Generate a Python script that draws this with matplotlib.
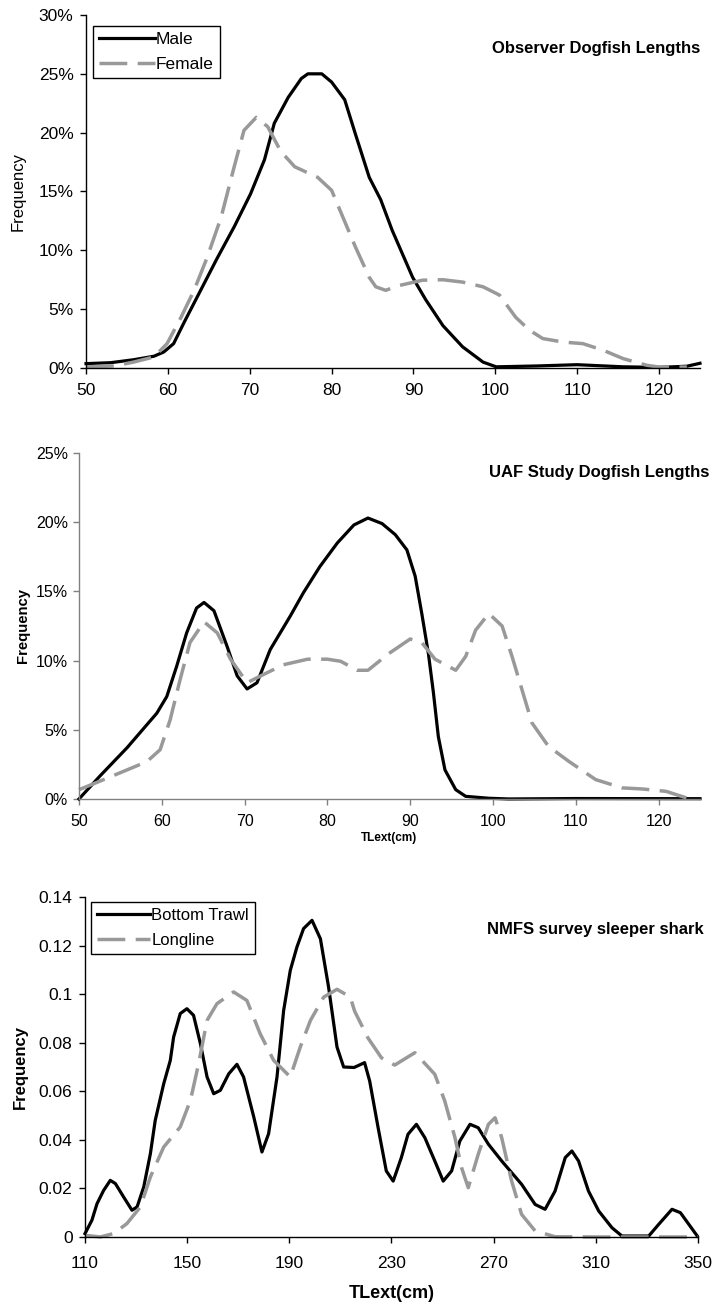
"""Three stacked length-frequency panels: observer dogfish, UAF dogfish, NMFS sleeper shark."""

import matplotlib

matplotlib.use("Agg")
import matplotlib.pyplot as plt  # noqa: E402
from matplotlib.ticker import FuncFormatter  # noqa: E402

plt.rcParams["font.family"] = ["Liberation Sans", "DejaVu Sans"]

GRAY = "#999999"
DASH = (0, (8, 3))

# ---- panel 1: Observer dogfish lengths (percent) ----
obs_male_x = [50, 53, 55.8, 58.3, 59.5, 60.7, 62, 64, 66, 68.1, 70.1, 71.8, 73, 74.7,
              76.3, 77.1, 78.8, 80, 81.6, 82.9, 84.6, 86, 87.4, 89.9, 91.5, 93.6, 96,
              98.5, 100.1, 105, 110, 115.6, 120, 123.4, 125]
obs_male_y = [0.37, 0.45, 0.7, 1.0, 1.36, 2.07, 3.9, 6.6, 9.3, 12, 14.8, 17.7, 20.8, 23,
              24.6, 25, 25, 24.3, 22.8, 19.9, 16.2, 14.3, 11.7, 7.7, 5.8, 3.6, 1.8,
              0.5, 0.1, 0.17, 0.28, 0.1, 0.05, 0.15, 0.4]
obs_fem_x = [50, 53.4, 55.8, 58.3, 59.9, 61.6, 63.2, 64.8, 66.5, 68.1, 69.3, 70.8, 72.2,
             73.8, 75.5, 78.3, 80, 82.9, 84.6, 85.4, 86.6, 88.2, 91.1, 93.6, 96, 98.5,
             100.5, 102.5, 104.2, 105.8, 108.3, 110.7, 113.2, 115.6, 118.5, 120, 123.4]
obs_fem_y = [0.1, 0.17, 0.5, 0.94, 2.07, 4.3, 6.6, 9.4, 12.8, 17.1, 20.2, 21.3, 20.5,
             18.4, 17.1, 16.2, 15.1, 10.3, 7.7, 6.9, 6.6, 7.0, 7.46, 7.5, 7.3, 6.9,
             6.2, 4.3, 3.2, 2.5, 2.2, 2.07, 1.5, 0.8, 0.23, 0.08, 0.08]

# ---- panel 2: UAF study dogfish lengths (percent) ----
uaf_male_x = [50, 52.5, 55.8, 59.4, 60.6, 61.8, 63, 64.2, 65.1, 66.3, 67.9, 69.1, 70.3,
              71.5, 73.1, 75.5, 77.1, 79.1, 81.2, 83.2, 84.9, 86.6, 88.2, 89.6, 90.6,
              91.4, 92.2, 92.8, 93.4, 94.2, 95.5, 96.7, 99.5, 101.9, 110, 125]
uaf_male_y = [0, 1.64, 3.7, 6.2, 7.4, 9.6, 12, 13.8, 14.2, 13.6, 11, 8.9, 7.95,
              8.4, 10.8, 13.2, 14.9, 16.8, 18.5, 19.8, 20.3, 19.9, 19.1, 18, 16.1,
              13.4, 10.5, 7.7, 4.5, 2.1, 0.67, 0.19, 0.05, 0, 0.03, 0.02]
uaf_fem_x = [50, 52.5, 55.8, 58.2, 59.8, 61, 62.2, 63.4, 65.1, 66.7, 68.3, 70.3, 72.3,
             74.7, 77.6, 80, 81.6, 83.6, 84.9, 87.4, 90, 91.4, 93, 95.5, 96.7, 97.9,
             99.5, 101.1, 102.3, 103.5, 104.7, 106.7, 109.2, 112.4, 115.6, 118.1,
             120.9, 123.4]
uaf_fem_y = [0.67, 1.28, 2.1, 2.7, 3.56, 5.7, 8.6, 11.3, 12.8, 12, 10.1, 8.4, 9,
             9.7, 10.1, 10.1, 9.95, 9.3, 9.3, 10.5, 11.56, 11.3, 10.1, 9.3, 10.3, 12.2,
             13.4, 12.5, 10.3, 7.9, 5.5, 3.8, 2.7, 1.4, 0.8, 0.72, 0.55, 0.07]

# ---- panel 3: NMFS survey sleeper shark (proportion) ----
bt_x = [110, 112.7, 114.7, 117.3, 119.9, 121.9, 125.1, 128.4, 130.4, 133, 135.6, 137.5,
        140.8, 143.4, 144.7, 147.3, 149.9, 152.5, 155.2, 157.8, 160.4, 163, 166.3,
        169.5, 172.1, 176.1, 179.3, 181.9, 185.2, 187.8, 190.4, 193, 195.6, 198.9,
        202.2, 205.4, 208.7, 211.3, 215.4, 219.5, 221.5, 224.8, 228, 230.7, 233.9,
        236.5, 239.8, 243.1, 247, 250.3, 253.6, 256.8, 260.8, 264, 268, 273.2, 281,
        286.3, 290.2, 294.1, 298.1, 300.7, 303.3, 307.2, 311.2, 316.4, 320.3, 330.8,
        334.7, 339.9, 343.2, 346.5, 349.8]
bt_y = [0.0014, 0.0069, 0.0137, 0.0192, 0.0233, 0.022, 0.0165, 0.011, 0.0124, 0.0206,
        0.0343, 0.048, 0.063, 0.0727, 0.0823, 0.092, 0.094, 0.0913, 0.0796, 0.0659,
        0.059, 0.0604, 0.0672, 0.0711, 0.0659, 0.0494, 0.035, 0.0425, 0.0659, 0.0933,
        0.1098, 0.1194, 0.127, 0.1304, 0.1228, 0.1029, 0.0782, 0.07, 0.0698, 0.0718,
        0.0642, 0.045, 0.0272, 0.023, 0.0327, 0.0423, 0.0464, 0.0409, 0.0313, 0.023,
        0.0272, 0.0395, 0.0464, 0.045, 0.0382, 0.0313, 0.0217, 0.0134, 0.0114, 0.0189,
        0.0327, 0.0354, 0.0313, 0.0189, 0.0107, 0.0038, 0.0004, 0.0004, 0.0052, 0.0114,
        0.01, 0.0052, 0.0004]
ll_x = [110, 116, 121.2, 126.4, 131.7, 135.6, 140.8, 147.3, 151.3, 154.5, 157.8, 161.7,
        168.2, 173.4, 178.6, 183.9, 186.5, 190.4, 194.3, 198.3, 203.5, 208.7, 213.9,
        215.6, 220.8, 226.1, 231.3, 239.2, 247, 250.9, 254.9, 257.5, 260.1, 264, 268,
        270.6, 273.2, 277.1, 281, 286.3, 294.1, 310, 330, 350]
ll_y = [0.0007, 0, 0.0014, 0.0055, 0.0124, 0.0247, 0.037, 0.0453, 0.0563, 0.0714,
        0.0892, 0.0961, 0.1009, 0.0974, 0.0837, 0.0727, 0.07, 0.0659, 0.0782, 0.0892,
        0.0988, 0.102, 0.0988, 0.093, 0.082, 0.0738, 0.0708, 0.0759, 0.067, 0.056,
        0.0409, 0.0285, 0.0203, 0.034, 0.0464, 0.0491, 0.0409, 0.023, 0.0093, 0.0025,
        0.0001, 0, 0, 0]

pct_ticks_1 = [0, 5, 10, 15, 20, 25, 30]
pct_ticks_2 = [0, 5, 10, 15, 20, 25]
x_ticks_dog = [50, 60, 70, 80, 90, 100, 110, 120]
y_ticks_3 = [0, 0.02, 0.04, 0.06, 0.08, 0.1, 0.12, 0.14]
x_ticks_3 = [110, 150, 190, 230, 270, 310, 350]


def style_axes(ax, spine_color, size, xpad, ypad):
    for side in ("top", "right"):
        ax.spines[side].set_visible(False)
    for side in ("left", "bottom"):
        ax.spines[side].set_color(spine_color)
        ax.spines[side].set_linewidth(1.0)
    ax.tick_params(direction="out", length=4, width=1.0, color=spine_color,
                   labelsize=size, labelcolor="black")
    ax.tick_params(axis="x", pad=xpad)
    ax.tick_params(axis="y", pad=ypad)


def add_legend(ax, size, anchor):
    leg = ax.legend(loc="upper left", bbox_to_anchor=anchor, fontsize=size,
                    frameon=True, fancybox=False, edgecolor="black", handlelength=3.2,
                    handletextpad=0.05, borderpad=0.35, labelspacing=0.6,
                    borderaxespad=0, framealpha=1)
    leg.get_frame().set_linewidth(1.0)
    return leg


pct_fmt = FuncFormatter(lambda v, _: f"{v:.0f}%")
num_fmt = FuncFormatter(lambda v, _: f"{v:g}")

fig = plt.figure(figsize=(7.15, 13.04), dpi=100)

# panel 1
ax1 = fig.add_axes([0.1203, 0.7178, 0.8587, 0.2707])
ax1.plot(obs_male_x, obs_male_y, color="black", lw=2.3, label="Male", clip_on=False)
ax1.plot(obs_fem_x, obs_fem_y, color=GRAY, lw=2.5, ls=DASH, label="Female", clip_on=False)
ax1.set_xlim(50, 125)
ax1.set_ylim(0, 30)
ax1.set_xticks(x_ticks_dog)
ax1.set_yticks(pct_ticks_1)
ax1.yaxis.set_major_formatter(pct_fmt)
style_axes(ax1, "black", 12.5, 7, 5)
ax1.set_ylabel("Frequency", fontsize=12, labelpad=9)
ax1.text(1.0, 0.905, "Observer Dogfish Lengths", transform=ax1.transAxes,
         ha="right", va="center", fontsize=12, fontweight="bold")
add_legend(ax1, 12.5, (0.012, 0.97))

# panel 2
ax2 = fig.add_axes([0.1105, 0.3873, 0.8685, 0.2653])
ax2.plot(uaf_male_x, uaf_male_y, color="black", lw=2.3, clip_on=False)
ax2.plot(uaf_fem_x, uaf_fem_y, color=GRAY, lw=2.5, ls=DASH, clip_on=False)
ax2.set_xlim(50, 125)
ax2.set_ylim(0, 25)
ax2.set_xticks(x_ticks_dog)
ax2.set_yticks(pct_ticks_2)
ax2.yaxis.set_major_formatter(pct_fmt)
style_axes(ax2, "#808080", 11.5, 7, 4)
ax2.set_ylabel("Frequency", fontsize=10.7, fontweight="bold", labelpad=4)
ax2.set_xlabel("TLext(cm)", fontsize=8.5, fontweight="bold", labelpad=2)
ax2.text(1.015, 0.945, "UAF Study Dogfish Lengths", transform=ax2.transAxes,
         ha="right", va="center", fontsize=12, fontweight="bold")

# panel 3
ax3 = fig.add_axes([0.1189, 0.0514, 0.857, 0.2607])
ax3.plot(bt_x, bt_y, color="black", lw=2.3, label="Bottom Trawl", clip_on=False)
ax3.plot(ll_x, ll_y, color=GRAY, lw=2.5, ls=DASH, label="Longline", clip_on=False)
ax3.set_xlim(110, 350)
ax3.set_ylim(0, 0.14)
ax3.set_xticks(x_ticks_3)
ax3.set_yticks(y_ticks_3)
ax3.yaxis.set_major_formatter(num_fmt)
style_axes(ax3, "black", 12.5, 10, 5)
ax3.set_ylabel("Frequency", fontsize=12, fontweight="bold", labelpad=8)
ax3.set_xlabel("TLext(cm)", fontsize=13, fontweight="bold", labelpad=10)
ax3.text(1.01, 0.905, "NMFS survey sleeper shark", transform=ax3.transAxes,
         ha="right", va="center", fontsize=12, fontweight="bold")
add_legend(ax3, 12, (0.01, 0.985))

fig.savefig("out.png", dpi=100)
